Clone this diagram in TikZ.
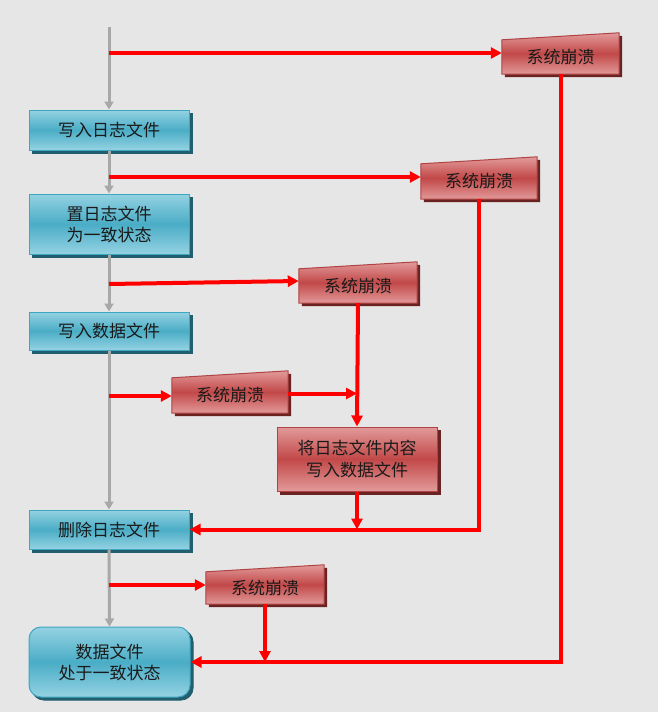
\documentclass[tikz,border=0pt]{standalone}
\usepackage{fontspec}
\newfontfamily\cjk{Noto Sans CJK SC}
\usetikzlibrary{arrows.meta,calc,shadows,backgrounds}
\definecolor{bgc}{HTML}{E6E6E6}
\definecolor{blight}{HTML}{94D2E2}
\definecolor{bmid}{HTML}{4AADC6}
\definecolor{bborder}{HTML}{3FA6C2}
\definecolor{bshadow}{HTML}{215E6E}
\definecolor{rlight}{HTML}{E29A9A}
\definecolor{rmid}{HTML}{C24848}
\definecolor{rborder}{HTML}{B04444}
\definecolor{rshadow}{HTML}{6A2222}
\definecolor{gline}{HTML}{A8A8A8}
\definecolor{txt}{HTML}{1A1A1A}
\newcommand\mkcrash[1]{%
  \fill[rshadow] ($(#1.south west)+(3,3)$) -- ($(#1.south east)+(3,3)$) -- ($(#1.north east)+(3,-4)$) -- ($(#1.north west)+(3,3)$) -- cycle;
  \shade[top color=rlight, bottom color=rlight, middle color=rmid, draw=rborder, line width=1pt] (#1.south west) -- (#1.south east) -- ($(#1.north east)+(0,-7)$) -- (#1.north west) -- cycle;
}
\begin{document}
\begin{tikzpicture}[x=1pt,y=-1pt,
  font=\cjk\fontsize{17}{21}\selectfont,
  bluebox/.style={draw=bborder, line width=1pt, top color=blight, bottom color=blight, middle color=bmid,
    align=center, text=txt, minimum width=160pt, inner sep=0pt,
    copy shadow={shadow xshift=3pt, shadow yshift=-3pt, fill=bshadow, draw=bshadow}},
  redbox/.style={draw=rborder, line width=1pt, top color=rlight, bottom color=rlight, middle color=rmid,
    align=center, text=txt, minimum width=160pt, inner sep=0pt,
    copy shadow={shadow xshift=3pt, shadow yshift=-3pt, fill=rshadow, draw=rshadow}},
  crash/.style={inner sep=0pt, text=txt},
  redline/.style={line width=4pt, draw={rgb,255:red,255;green,0;blue,0}, -{Triangle[length=11pt,width=11pt]}},
  redplain/.style={line width=4pt, draw={rgb,255:red,255;green,0;blue,0}},
  grayline/.style={line width=3pt, draw=gline, -{Triangle[length=8pt,width=9pt]}}]
\begin{pgfonlayer}{background}
\fill[bgc] (0,0) rectangle (658,712);
\end{pgfonlayer}
\useasboundingbox (0,0) rectangle (658,712);

% main flow boxes
\node[bluebox, minimum height=40pt] (b1) at (109,130) {写入日志文件};
\node[bluebox, minimum height=60pt] (b2) at (109,224) {置日志文件\\为一致状态};
\node[bluebox, minimum height=38pt] (b3) at (109,331) {写入数据文件};
\node[bluebox, minimum height=39pt] (b4) at (109,529.5) {删除日志文件};
\node[bluebox, rounded corners=12pt, minimum width=161pt, minimum height=70pt] (b5) at (109.5,662) {数据文件\\处于一致状态};

% crash boxes
\node[crash, minimum width=117pt, minimum height=34pt] (c1) at (560.5,57) {系统崩溃};
\node[crash, minimum width=116pt, minimum height=35pt] (c2) at (479,181.5) {系统崩溃};
\node[crash, minimum width=118pt, minimum height=34pt] (c3) at (358,286) {系统崩溃};
\node[crash, minimum width=116pt, minimum height=35pt] (c4) at (230,395.5) {系统崩溃};
\node[crash, minimum width=118pt, minimum height=32pt] (c5) at (265,588) {系统崩溃};
\begin{pgfonlayer}{background}
\mkcrash{c1}\mkcrash{c2}\mkcrash{c3}\mkcrash{c4}\mkcrash{c5}
\end{pgfonlayer}

\node[redbox, minimum height=64pt] (r) at (357,459) {将日志文件内容\\写入数据文件};

% gray flow
\coordinate (top) at (109,27);
\draw[grayline] (top) -- (b1.north);
\draw[grayline] (b1.south) -- (b2.north);
\draw[grayline] (b2.south) -- (b3.north);
\draw[grayline] (b3.south) -- (b4.north);
\draw[grayline] (b4.south) -- (b5.north);

% red branches
\coordinate (s1) at (109,53);
\coordinate (s2) at (109,177);
\coordinate (s3) at (109,284);
\coordinate (s4) at (109,396);
\coordinate (s5) at (109,585);
\draw[redline] (s1) -- (s1 -| c1.west);
\draw[redline] (s2) -- (s2 -| c2.west);
\draw[redline] (s3) -- ($(c3.west)+(0,-5)$);
\draw[redline] (s4) -- (s4 -| c4.west);
\draw[redline] (s5) -- (s5 -| c5.west);

\draw[redline] (c1.south) |- (b5.east);
\draw[redline] (c2.south) |- (b4.east);
\draw[redline] (c3.south) -- (r.north);
\coordinate (c4e) at ($(c4.east)+(0,-2)$);
\draw[redline] (c4e) -- (c4e -| r.north);
\draw[redline] (r.south) -- (r.south |- b4.east);
\draw[redline] (c5.south) -- (c5.south |- b5.east);
\end{tikzpicture}
\end{document}
